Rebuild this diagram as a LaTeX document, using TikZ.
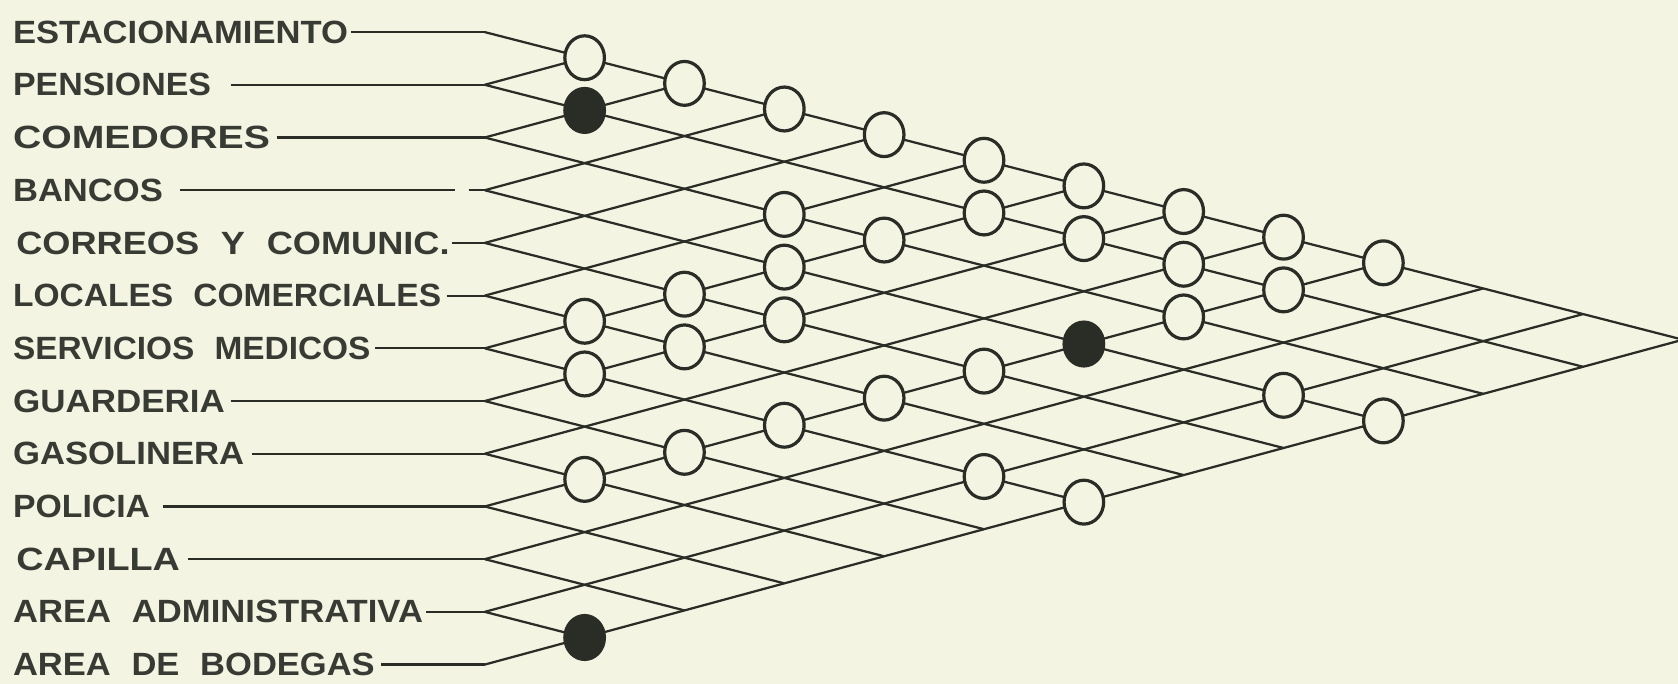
\documentclass[tikz,border=0pt]{standalone}
\usepackage{fontspec}
\setmainfont{Liberation Sans}
\usepackage{graphicx}
\usetikzlibrary{shapes.geometric}
\definecolor{bg}{HTML}{F4F4E3}
\definecolor{ink}{HTML}{2A2C26}
\definecolor{txt}{HTML}{383B33}
\newcommand{\lbltxt}[2]{\resizebox{#1pt}{21pt}{\bfseries #2}}
\newcommand{\ws}{\hspace{0.6em}}
\begin{document}
\begin{tikzpicture}[x=1pt,y=1pt,
  lat/.style={draw=ink,line width=2.1pt},
  lbl/.style={anchor=west,inner sep=0pt,text=txt},
  oc/.style={ellipse,draw=ink,line width=3pt,fill=bg,minimum width=37pt,minimum height=41pt,inner sep=0pt},
  fc/.style={oc,fill=ink}]
\fill[bg] (0,0) rectangle (1568,-639);
\useasboundingbox (0,0) rectangle (1568,-639);
% junction points
\foreach \i in {1,...,13}{
  \pgfmathsetmacro\jy{-(30+49.25*(\i-1))}
  \coordinate (J\i) at (453,\jy);
}
% lattice intersections
\foreach \i in {1,...,12}{
  \pgfmathtruncatemacro\ip{\i+1}
  \foreach \j in {\ip,...,13}{
    \pgfmathsetmacro\px{453+93.3*(\j-\i)}
    \pgfmathsetmacro\py{-(60+49.25*(\i-1)+49.25*(\j-1))/2+0.0072*93.3*(\j-\i)}
    \coordinate (P\i-\j) at (\px,\py);
  }
}
% lattice lines
\foreach \i in {1,...,12}{ \draw[lat] (J\i) -- (P\i-13); }
\foreach \i in {2,...,13}{ \draw[lat] (J\i) -- (P1-\i); }
% labels
\node[lbl] (L1) at (12,-30) {\lbltxt{313}{ESTACIONAMIENTO}};
\node[lbl] (L2) at (12,-79.25) {\lbltxt{185}{PENSIONES}};
\node[lbl] (L3) at (12,-128.5) {\lbltxt{240}{COMEDORES}};
\node[lbl] (L4) at (12,-177.75) {\lbltxt{140}{BANCOS}};
\node[lbl] (L5) at (15,-227) {\lbltxt{405}{CORREOS\ws Y\ws COMUNIC.}};
\node[lbl] (L6) at (12,-276.25) {\lbltxt{400}{LOCALES\ws COMERCIALES}};
\node[lbl] (L7) at (12,-325.5) {\lbltxt{334}{SERVICIOS\ws MEDICOS}};
\node[lbl] (L8) at (12,-374.75) {\lbltxt{198}{GUARDERIA}};
\node[lbl] (L9) at (12,-424) {\lbltxt{216}{GASOLINERA}};
\node[lbl] (L10) at (12,-473.25) {\lbltxt{128}{POLICIA}};
\node[lbl] (L11) at (15,-522.5) {\lbltxt{153}{CAPILLA}};
\node[lbl] (L12) at (12,-571.75) {\lbltxt{383}{AREA\ws ADMINISTRATIVA}};
\node[lbl] (L13) at (12,-621) {\lbltxt{338}{AREA\ws DE\ws BODEGAS}};
% label leaders
\draw[lat] ([xshift=3pt]L1.east) -- (J1);
\draw[lat] ([xshift=18pt]L2.east) -- (J2);
\draw[lat] ([xshift=6pt]L3.east) -- (J3);
\coordinate (B4a) at (425,-177.75);
\coordinate (B4b) at (438,-177.75);
\draw[lat] ([xshift=16pt]L4.east) -- (B4a);
\draw[lat] (B4b) -- (J4);
\draw[lat] ([xshift=2pt]L5.east) -- (J5);
\draw[lat] ([xshift=5pt]L6.east) -- (J6);
\draw[lat] ([xshift=4pt]L7.east) -- (J7);
\draw[lat] ([xshift=5pt]L8.east) -- (J8);
\draw[lat] ([xshift=7pt]L9.east) -- (J9);
\draw[lat] ([xshift=12pt]L10.east) -- (J10);
\draw[lat] ([xshift=7pt]L11.east) -- (J11);
\draw[lat] ([xshift=3pt]L12.east) -- (J12);
\draw[lat] ([xshift=6pt]L13.east) -- (J13);
% open circles
\foreach \p in {1-2,1-3,1-4,1-5,1-6,1-7,1-8,1-9,1-10,
  2-7,2-8,2-9,2-10,3-6,3-7,3-10,4-7,4-12,4-13,
  5-7,5-8,5-10,6-7,6-8,6-10,7-8,7-10,7-12,7-13,8-10,9-10}{
  \node[oc] (C\p) at (P\p) {};
}
% filled circles
\foreach \p in {2-3,4-10,12-13}{
  \node[fc] (C\p) at (P\p) {};
}
\end{tikzpicture}
\end{document}
